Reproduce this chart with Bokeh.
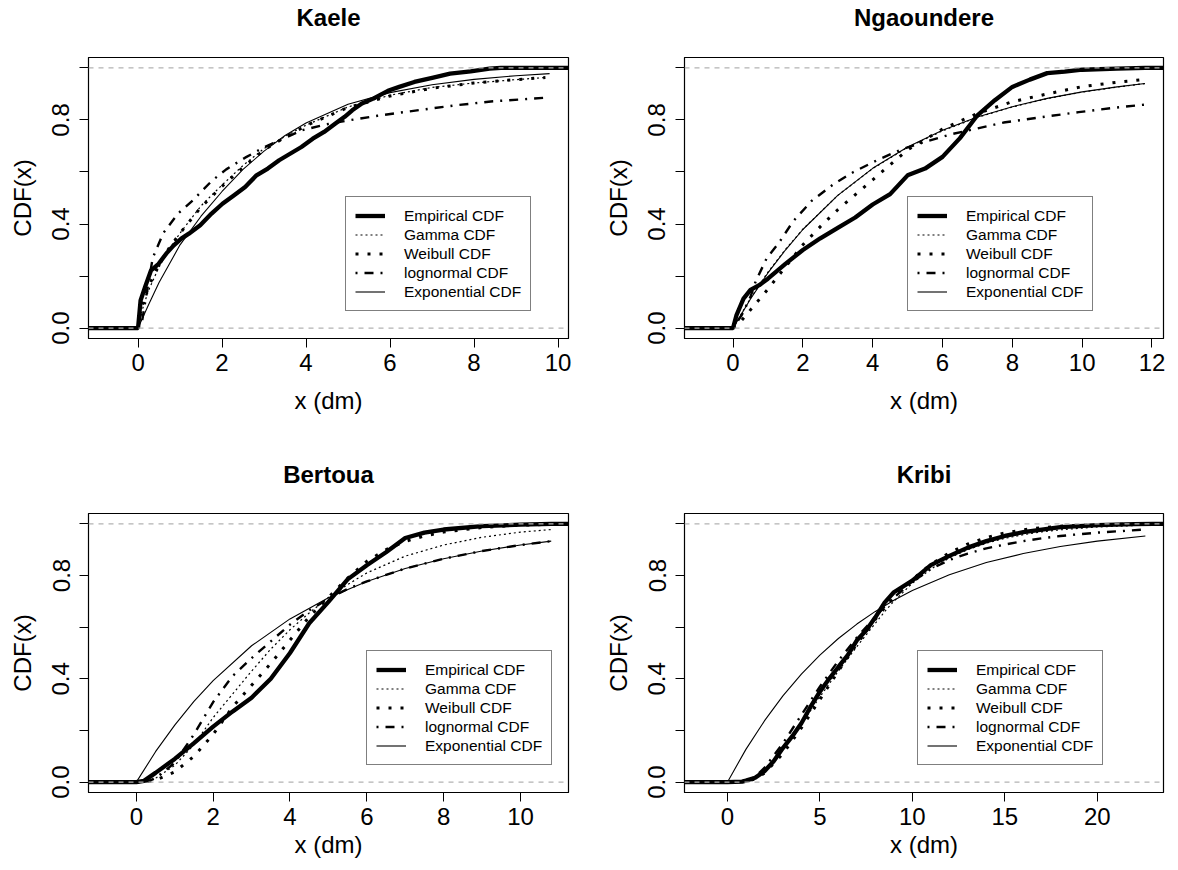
from bokeh.plotting import figure
from bokeh.layouts import column, row
from bokeh.models import (FixedTicker, Span, Legend, LegendItem, Range1d, LinearAxis,
                          CustomJSTickFormatter)
from bokeh.embed import file_html
from bokeh.resources import INLINE

FONT = "Liberation Sans"

# ---------------- data ----------------
titles = ["Kaele", "Ngaoundere", "Bertoua", "Kribi"]
legend_labels = ["Empirical CDF", "Gamma CDF", "Weibull CDF", "lognormal CDF", "Exponential CDF"]
x_label = "x (dm)"
y_label = "CDF(x)"
y_ticks = [0.0, 0.2, 0.4, 0.6, 0.8, 1.0]

# Kaele
kaele_emp_x = [0, 0.06, 0.18, 0.31, 0.49, 0.67, 0.85, 1.03, 1.21, 1.48, 1.75, 2.01, 2.28, 2.55, 2.82,
               3.09, 3.36, 3.63, 3.89, 4.16, 4.43, 4.70, 4.92, 5.10, 5.33, 5.60, 5.95, 6.22, 6.58,
               7.03, 7.43, 7.92, 8.37, 8.64]
kaele_emp_y = [0, 0.106, 0.164, 0.222, 0.247, 0.286, 0.318, 0.344, 0.363, 0.395, 0.44, 0.478, 0.51,
               0.542, 0.587, 0.613, 0.645, 0.671, 0.696, 0.728, 0.754, 0.786, 0.812, 0.837, 0.863,
               0.882, 0.912, 0.927, 0.946, 0.963, 0.978, 0.987, 0.997, 1.0]
kaele_gam_x = [0, 0.1, 0.25, 0.5, 0.75, 1, 1.5, 2, 2.5, 3, 3.5, 4, 5, 6, 7, 8, 9, 9.7]
kaele_gam_y = [0, 0.07, 0.145, 0.235, 0.305, 0.365, 0.47, 0.55, 0.625, 0.69, 0.737, 0.78, 0.85,
               0.895, 0.925, 0.942, 0.955, 0.963]
kaele_wei_x = [0, 0.1, 0.25, 0.5, 0.75, 1, 1.5, 2, 2.5, 3, 3.5, 4, 5, 6, 7, 8, 9, 9.7]
kaele_wei_y = [0, 0.09, 0.16, 0.245, 0.31, 0.365, 0.465, 0.545, 0.618, 0.685, 0.733, 0.778, 0.848,
               0.892, 0.922, 0.942, 0.955, 0.963]
kaele_lno_x = [0, 0.1, 0.2, 0.35, 0.6, 0.95, 1.3, 1.75, 2.1, 2.55, 3.0, 3.55, 3.9, 4.45, 5.0, 5.7,
               6.6, 7.5, 8.4, 9.65]
kaele_lno_y = [0, 0.03, 0.13, 0.27, 0.365, 0.44, 0.49, 0.565, 0.61, 0.655, 0.695, 0.735, 0.76,
               0.782, 0.798, 0.816, 0.836, 0.855, 0.871, 0.885]
kaele_exp_x = [0, 0.25, 0.5, 1, 1.5, 2, 2.5, 3, 3.5, 4, 5, 6, 7, 8, 9, 9.8]
kaele_exp_y = [0, 0.09, 0.175, 0.32, 0.43, 0.525, 0.61, 0.68, 0.74, 0.788, 0.86, 0.905, 0.935,
               0.956, 0.97, 0.978]

# Ngaoundere
ngaou_emp_x = [0, 0.1, 0.3, 0.5, 0.75, 1, 1.5, 2, 2.5, 3, 3.5, 4, 4.5, 5, 5.5, 6, 6.5, 7, 7.5, 8,
               8.5, 9, 9.5, 10, 11, 11.8]
ngaou_emp_y = [0, 0.05, 0.113, 0.147, 0.165, 0.19, 0.247, 0.30, 0.345, 0.385, 0.425, 0.475, 0.515,
               0.587, 0.613, 0.658, 0.73, 0.818, 0.876, 0.927, 0.955, 0.98, 0.986, 0.993, 0.997, 1.0]
ngaou_gam_x = [0, 0.5, 1, 1.5, 2, 3, 4, 5, 6, 7, 8, 9, 10, 11, 11.8]
ngaou_gam_y = [0, 0.115, 0.215, 0.302, 0.38, 0.51, 0.613, 0.695, 0.758, 0.81, 0.85, 0.882, 0.907,
               0.926, 0.94]
ngaou_wei_x = [0, 0.25, 0.5, 1, 1.5, 2, 2.5, 3, 4, 5, 6, 7, 8, 9, 10, 11, 11.8]
ngaou_wei_y = [0, 0.03, 0.07, 0.15, 0.235, 0.32, 0.39, 0.455, 0.57, 0.685, 0.765, 0.825, 0.87,
               0.9, 0.928, 0.945, 0.956]
ngaou_lno_x = [0, 0.25, 0.5, 0.65, 0.97, 1.3, 1.72, 2.26, 2.9, 3.45, 4.2, 4.85, 5.6, 6.25, 7.0,
               7.75, 8.8, 9.9, 11.0, 11.8]
ngaou_lno_y = [0, 0.05, 0.12, 0.18, 0.27, 0.325, 0.41, 0.49, 0.555, 0.6, 0.65, 0.688, 0.72, 0.745,
               0.767, 0.79, 0.81, 0.83, 0.848, 0.859]
ngaou_exp_x = [0, 0.5, 1, 1.5, 2, 3, 4, 5, 6, 7, 8, 9, 10, 11, 11.8]
ngaou_exp_y = [0, 0.112, 0.212, 0.30, 0.379, 0.51, 0.614, 0.696, 0.76, 0.811, 0.851, 0.883, 0.908,
               0.927, 0.94]

# Bertoua
berto_emp_x = [0, 0.2, 0.5, 1, 1.5, 2, 2.5, 3, 3.5, 4, 4.5, 5, 5.5, 6, 6.5, 7, 7.5, 8, 9, 10, 10.8]
berto_emp_y = [0, 0.005, 0.036, 0.09, 0.151, 0.215, 0.273, 0.327, 0.4, 0.5, 0.615, 0.698, 0.785,
               0.84, 0.89, 0.945, 0.966, 0.978, 0.991, 0.997, 1.0]
berto_gam_x = [0, 0.3, 0.5, 1, 1.5, 2, 2.5, 3, 3.5, 4, 4.5, 5, 5.5, 6, 7, 8, 9, 10, 10.8]
berto_gam_y = [0, 0.005, 0.015, 0.065, 0.145, 0.25, 0.34, 0.43, 0.515, 0.59, 0.655, 0.715, 0.765,
               0.81, 0.875, 0.918, 0.948, 0.968, 0.978]
berto_wei_x = [0, 0.3, 0.5, 1, 1.5, 2, 2.5, 3, 3.5, 4, 4.5, 5, 5.5, 6, 6.5, 7, 7.5, 8, 9, 10, 10.8]
berto_wei_y = [0, 0.002, 0.008, 0.04, 0.1, 0.185, 0.29, 0.375, 0.46, 0.55, 0.64, 0.715, 0.79,
               0.855, 0.9, 0.932, 0.953, 0.968, 0.986, 0.995, 0.998]
berto_lno_x = [0, 0.3, 0.5, 1, 1.5, 2, 2.5, 3, 3.5, 4, 4.5, 5, 5.5, 6, 7, 8, 9, 10, 10.8]
berto_lno_y = [0, 0.003, 0.015, 0.075, 0.185, 0.31, 0.41, 0.48, 0.545, 0.61, 0.665, 0.71, 0.748,
               0.777, 0.827, 0.865, 0.895, 0.918, 0.933]
berto_exp_x = [0, 0.5, 1, 1.5, 2, 3, 4, 5, 6, 7, 8, 9, 10, 10.8]
berto_exp_y = [0, 0.118, 0.221, 0.313, 0.393, 0.528, 0.632, 0.714, 0.777, 0.827, 0.865, 0.895,
               0.918, 0.933]

# Kribi
kribi_emp_x = [0, 0.8, 1, 1.5, 2, 2.5, 3, 3.5, 4, 4.5, 5, 5.5, 6, 6.5, 7, 7.5, 8, 8.5, 9, 10, 11,
               12, 13, 14, 15, 16, 17, 18, 19, 20, 22, 23]
kribi_emp_y = [0, 0.002, 0.006, 0.017, 0.042, 0.081, 0.132, 0.177, 0.228, 0.292, 0.35, 0.40,
               0.446, 0.491, 0.549, 0.587, 0.638, 0.695, 0.735, 0.78, 0.84, 0.876, 0.908, 0.933,
               0.953, 0.968, 0.978, 0.987, 0.991, 0.995, 0.999, 1.0]
kribi_fit_x = [0, 1, 1.5, 2, 3, 4, 5, 6, 7, 8, 8.5, 9, 10, 11, 12, 13, 14, 15, 16, 17, 18, 20, 22.6]
kribi_gam_y = [0, 0.004, 0.015, 0.045, 0.125, 0.225, 0.33, 0.43, 0.525, 0.615, 0.66, 0.7, 0.77,
               0.825, 0.868, 0.9, 0.925, 0.944, 0.958, 0.969, 0.977, 0.988, 0.995]
kribi_wei_y = [0, 0.003, 0.012, 0.035, 0.11, 0.21, 0.32, 0.43, 0.535, 0.63, 0.675, 0.715, 0.785,
               0.843, 0.888, 0.922, 0.947, 0.965, 0.977, 0.985, 0.991, 0.997, 0.999]
kribi_lno_y = [0, 0.005, 0.02, 0.055, 0.15, 0.26, 0.37, 0.47, 0.56, 0.64, 0.68, 0.715, 0.775,
               0.825, 0.86, 0.885, 0.905, 0.92, 0.933, 0.944, 0.953, 0.966, 0.978]
kribi_exp_x = [0, 1, 2, 3, 4, 5, 6, 7, 8, 9, 10, 12, 14, 16, 18, 20, 22.6]
kribi_exp_y = [0, 0.127, 0.237, 0.334, 0.418, 0.492, 0.556, 0.612, 0.661, 0.704, 0.742, 0.803,
               0.85, 0.885, 0.912, 0.933, 0.953]

kaele_x_ticks = [0, 2, 4, 6, 8, 10]
ngaou_x_ticks = [0, 2, 4, 6, 8, 10, 12]
berto_x_ticks = [0, 2, 4, 6, 8, 10]
kribi_x_ticks = [0, 5, 10, 15, 20]

# ---------------- styling ----------------
STYLES = [
    dict(line_width=4.3, line_color="black"),
    dict(line_width=1.2, line_color="black", line_dash="2 3"),
    dict(line_width=3, line_color="black", line_dash="3 9"),
    dict(line_width=2.4, line_color="black", line_dash="2 7 9 7"),
    dict(line_width=1.1, line_color="black"),
]


def style_axis(ax):
    ax.axis_line_color = "black"
    ax.major_tick_line_color = "black"
    ax.major_tick_out = 9
    ax.major_tick_in = 0
    ax.minor_tick_out = 0
    ax.minor_tick_in = 0
    ax.major_label_text_font = FONT
    ax.major_label_text_font_size = "24px"
    ax.major_label_text_color = "black"
    ax.axis_label_text_font = FONT
    ax.axis_label_text_font_size = "24px"
    ax.axis_label_text_font_style = "normal"
    ax.axis_label_text_color = "black"


def make_panel(title, xr, xticks, series, legend_xy, width, height, borders,
               title_standoff, xlab_standoff):
    left, right, top, bottom = borders
    p = figure(width=width, height=height, x_range=Range1d(*xr), y_range=Range1d(-0.04, 1.04),
               output_backend="svg", toolbar_location=None, title=None,
               min_border_left=left, min_border_right=right,
               min_border_top=top, min_border_bottom=bottom)
    p.background_fill_color = "white"
    p.border_fill_color = "white"
    p.outline_line_color = "black"
    p.outline_line_width = 1.2
    p.outline_line_alpha = 1
    p.xgrid.visible = False
    p.ygrid.visible = False

    xax = p.below[0]
    yax = p.left[0]
    style_axis(xax)
    style_axis(yax)

    xax.ticker = FixedTicker(ticks=xticks)
    xax.axis_label = x_label
    xax.major_label_standoff = 6
    xax.axis_label_standoff = xlab_standoff

    yax.ticker = FixedTicker(ticks=y_ticks)
    yax.formatter = CustomJSTickFormatter(code="""
        const shown = [0.0, 0.4, 0.8];
        for (const s of shown) { if (Math.abs(tick - s) < 1e-9) return tick.toFixed(1); }
        return "";
    """)
    yax.major_label_orientation = "vertical"
    yax.axis_label = y_label
    yax.major_label_standoff = 10
    yax.axis_label_standoff = 14

    # panel title, drawn as the label of a bare axis above the frame
    tax = LinearAxis(ticker=FixedTicker(ticks=[]), axis_label=title)
    tax.axis_line_color = None
    tax.major_tick_out = 0
    tax.major_tick_in = 0
    tax.minor_tick_out = 0
    tax.minor_tick_in = 0
    tax.major_label_standoff = 0
    tax.axis_label_standoff = title_standoff
    tax.axis_label_text_font = FONT
    tax.axis_label_text_font_size = "24px"
    tax.axis_label_text_font_style = "bold"
    tax.axis_label_text_color = "black"
    p.add_layout(tax, "above")

    renderers = []
    for i, (sx, sy) in enumerate(series):
        if i == 0:
            sx = [xr[0]] + list(sx) + [xr[1]]
            sy = [0] + list(sy) + [1]
        r = p.line(sx, sy, **STYLES[i])
        renderers.append(r)

    for loc in (0, 1):
        p.add_layout(Span(location=loc, dimension="width", line_color="#B3B3B3",
                          line_dash="5 5", line_width=1.2))

    items = [LegendItem(label=lab, renderers=[r]) for lab, r in zip(legend_labels, renderers)]
    leg = Legend(items=items, location=legend_xy)
    leg.border_line_color = "black"
    leg.border_line_width = 1
    leg.background_fill_color = "white"
    leg.background_fill_alpha = 1
    leg.label_text_font = FONT
    leg.label_text_font_size = "15.5px"
    leg.label_text_color = "black"
    leg.glyph_width = 30
    leg.glyph_height = 19
    leg.label_height = 19
    leg.spacing = 0
    leg.padding = 9
    leg.margin = 0
    leg.label_standoff = 19
    p.add_layout(leg)
    return p


p1 = make_panel(titles[0], (-1.18, 10.25), kaele_x_ticks,
                [(kaele_emp_x, kaele_emp_y), (kaele_gam_x, kaele_gam_y), (kaele_wei_x, kaele_wei_y),
                 (kaele_lno_x, kaele_lno_y), (kaele_exp_x, kaele_exp_y)],
                (257, 27), 589, 457, (88, 21, 57, 119), 27, 13)
p2 = make_panel(titles[1], (-1.39, 12.33), ngaou_x_ticks,
                [(ngaou_emp_x, ngaou_emp_y), (ngaou_gam_x, ngaou_gam_y), (ngaou_wei_x, ngaou_wei_y),
                 (ngaou_lno_x, ngaou_lno_y), (ngaou_exp_x, ngaou_exp_y)],
                (223, 27), 581, 457, (95, 7, 57, 119), 27, 13)
p3 = make_panel(titles[2], (-1.245, 11.25), berto_x_ticks,
                [(berto_emp_x, berto_emp_y), (berto_gam_x, berto_gam_y), (berto_wei_x, berto_wei_y),
                 (berto_lno_x, berto_lno_y), (berto_exp_x, berto_exp_y)],
                (278, 27), 589, 405, (88, 21, 54, 70), 26, 3)
p4 = make_panel(titles[3], (-2.32, 23.58), kribi_x_ticks,
                [(kribi_emp_x, kribi_emp_y), (kribi_fit_x, kribi_gam_y), (kribi_fit_x, kribi_wei_y),
                 (kribi_fit_x, kribi_lno_y), (kribi_exp_x, kribi_exp_y)],
                (233, 27), 581, 405, (95, 7, 54, 70), 26, 3)

layout = column(row(p1, p2), row(p3, p4))
open("out.html", "w").write(file_html(layout, INLINE))
